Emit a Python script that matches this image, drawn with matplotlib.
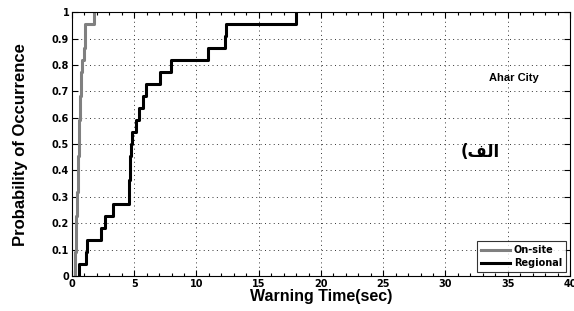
import matplotlib
matplotlib.use("Agg")
import matplotlib.pyplot as plt
from matplotlib.ticker import MultipleLocator

# Data (warning times in seconds, empirical CDF steps)
onsite_times = [0.26, 0.28, 0.30, 0.33, 0.36, 0.39, 0.42, 0.45, 0.48, 0.50, 0.53,
                0.56, 0.59, 0.62, 0.66, 0.70, 0.74, 0.78, 0.98, 1.02, 1.06, 1.75]
regional_times = [0.56, 1.13, 1.20, 2.31, 2.69, 3.33, 4.55, 4.60, 4.65, 4.70, 4.75,
                  4.80, 5.16, 5.35, 5.67, 5.97, 7.10, 7.98, 10.94, 12.26, 12.40, 18.0]
xticks = [0, 5, 10, 15, 20, 25, 30, 35, 40]
yticks = [0, 0.1, 0.2, 0.3, 0.4, 0.5, 0.6, 0.7, 0.8, 0.9, 1.0]
ytick_labels = ["0", "0.1", "0.2", "0.3", "0.4", "0.5", "0.6", "0.7", "0.8", "0.9", "1"]


def ecdf(times):
    n = len(times)
    xs = [times[0]] + list(times)
    ys = [0.0] + [(i + 1) / n for i in range(n)]
    return xs, ys


fig = plt.figure(figsize=(5.74, 3.11), dpi=100)
ax = fig.add_axes([0.1254, 0.1125, 0.8676, 0.8485])

xo, yo = ecdf(onsite_times)
xr, yr = ecdf(regional_times)
ax.plot(xo, yo, drawstyle="steps-post", color="#808080", lw=2.2, label="On-site")
ax.plot(xr, yr, drawstyle="steps-post", color="black", lw=2.2, label="Regional")

ax.set_xlim(0, 40)
ax.set_ylim(0, 1)
ax.set_xticks(xticks)
ax.set_yticks(yticks)
ax.set_yticklabels(ytick_labels)
ax.xaxis.set_minor_locator(MultipleLocator(1))
ax.tick_params(which="both", direction="in", top=True, right=True)
ax.tick_params(which="major", length=4, width=0.8, labelsize=7, pad=2)
ax.tick_params(which="minor", length=2.5, width=0.8)
for lab in ax.get_xticklabels() + ax.get_yticklabels():
    lab.set_fontweight("bold")
    lab.set_family(["Liberation Sans Narrow", "DejaVu Sans"])
ax.grid(True, which="major", linestyle=(0, (1, 3.5)), color="#333333", lw=0.7)
for s in ax.spines.values():
    s.set_linewidth(0.8)

ax.set_xlabel("Warning Time(sec)", fontsize=11.5, fontweight="bold",
              family=["Liberation Sans", "DejaVu Sans"], labelpad=0)
ax.set_ylabel("Probability of Occurrence", fontsize=12, fontweight="bold",
              family=["Liberation Sans", "DejaVu Sans"], labelpad=17)

ax.text(35.5, 0.75, "Ahar City", fontsize=8, fontweight="bold", ha="center", va="center",
        family=["Liberation Sans", "DejaVu Sans"])
ax.text(32.8, 0.47, "(\uFED2\uFEDF\uFE8D", fontsize=12, fontweight="bold", ha="center",
        va="center", family=["DejaVu Sans"])

leg = ax.legend(loc="lower right", fontsize=7, frameon=True, fancybox=False,
                edgecolor="black", handlelength=3.0, borderpad=0.4, labelspacing=0.3,
                handletextpad=0.4, borderaxespad=0.4, prop={"weight": "bold", "size": 7,
                "family": ["Liberation Sans Narrow", "DejaVu Sans"]})
leg.get_frame().set_linewidth(0.8)

fig.savefig("out.png", dpi=100)
